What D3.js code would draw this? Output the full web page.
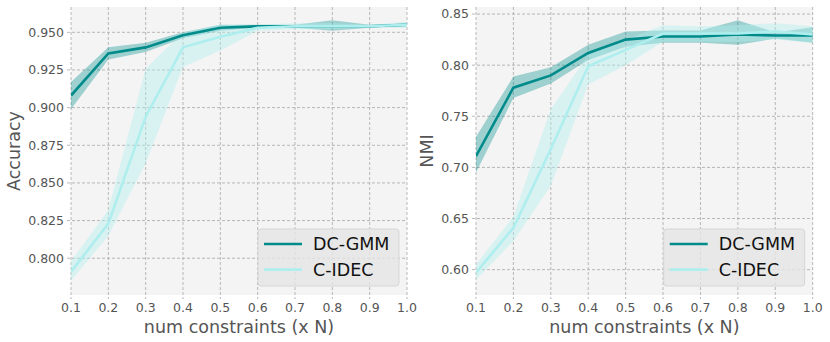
<!DOCTYPE html>
<html><head><meta charset="utf-8">
<script src="https://cdn.jsdelivr.net/npm/d3@7"></script>
<style>body{margin:0;background:#fff}svg{display:block}text{font-family:"DejaVu Sans",sans-serif}</style>
</head><body>
<svg id="c" width="830" height="342"></svg>
<script>
const xs = [0.1,0.2,0.3,0.4,0.5,0.6,0.7,0.8,0.9,1.0];
const xTicks = [0.1,0.2,0.3,0.4,0.5,0.6,0.7,0.8,0.9,1.0];
const seriesNames = ["DC-GMM","C-IDEC"];

// Accuracy panel
const accDC     = [0.908,0.936,0.940,0.948,0.953,0.954,0.954,0.954,0.954,0.955];
const accDCLo   = [0.899,0.932,0.937,0.946,0.951,0.953,0.953,0.951,0.953,0.954];
const accDCHi   = [0.917,0.940,0.943,0.950,0.955,0.955,0.955,0.958,0.955,0.956];
const accCI     = [0.791,0.823,0.894,0.940,0.947,0.953,0.954,0.954,0.954,0.955];
const accCILo   = [0.785,0.815,0.863,0.927,0.938,0.951,0.952,0.952,0.953,0.953];
const accCIHi   = [0.798,0.832,0.926,0.950,0.955,0.955,0.956,0.956,0.955,0.957];
const accTicks  = [0.800,0.825,0.850,0.875,0.900,0.925,0.950];

// NMI panel
const nmiDC     = [0.711,0.778,0.790,0.812,0.825,0.828,0.828,0.830,0.829,0.829];
const nmiDCLo   = [0.695,0.768,0.782,0.805,0.818,0.822,0.822,0.820,0.826,0.822];
const nmiDCHi   = [0.730,0.789,0.798,0.820,0.833,0.834,0.834,0.844,0.832,0.837];
const nmiCI     = [0.597,0.641,0.718,0.799,0.815,0.831,0.831,0.831,0.833,0.830];
const nmiCILo   = [0.590,0.628,0.682,0.781,0.800,0.823,0.823,0.823,0.825,0.822];
const nmiCIHi   = [0.605,0.652,0.757,0.810,0.825,0.839,0.838,0.839,0.841,0.838];
const nmiTicks  = [0.60,0.65,0.70,0.75,0.80,0.85];

const colors = ["#008b8b","#afeeee"];
const bandOpacity = [0.35,0.4];

const svg = d3.select("#c");

function panel(opt){
  const g = svg.append("g");
  const x = d3.scaleLinear().domain([0.1,1.0]).range(opt.xr);
  const y = d3.scaleLinear().domain(opt.yd).range([295,7]);
  const [x0,x1] = opt.xr;
  g.append("rect").attr("x",x0).attr("y",7).attr("width",x1-x0).attr("height",288).attr("fill","#f4f4f4");
  // grid
  g.selectAll(".gx").data(xTicks).join("line")
    .attr("x1",d=>x(d)).attr("x2",d=>x(d)).attr("y1",7).attr("y2",299)
    .attr("stroke","#b0b0b0").attr("stroke-width",0.9).attr("stroke-dasharray","3,2");
  g.selectAll(".gy").data(opt.ticks).join("line")
    .attr("x1",x0-4).attr("x2",x1).attr("y1",d=>y(d)).attr("y2",d=>y(d))
    .attr("stroke","#b0b0b0").attr("stroke-width",0.9).attr("stroke-dasharray","3,2");
  // x axis labels
  g.selectAll(".tx").data(xTicks).join("text")
    .attr("x",d=>x(d)).attr("y",312).attr("text-anchor","middle")
    .attr("font-size","12.5px").attr("fill","#555").text(d=>d.toFixed(1));
  g.selectAll(".ty").data(opt.ticks).join("text")
    .attr("x",x0-7).attr("y",d=>y(d)).attr("dy","0.35em").attr("text-anchor","end")
    .attr("font-size","12.5px").attr("fill","#555").text(d=>d.toFixed(opt.dec));
  g.append("text").attr("x",(x0+x1)/2).attr("y",333).attr("text-anchor","middle")
    .attr("font-size","17.5px").attr("fill","#555").text("num constraints (x N)");
  g.append("text").attr("transform",`translate(${opt.ylx},151) rotate(-90)`).attr("text-anchor","middle")
    .attr("dy","0.35em").attr("font-size","17.5px").attr("fill","#555").text(opt.ylabel);

  const clip = "clip"+opt.id;
  svg.append("clipPath").attr("id",clip).append("rect").attr("x",x0).attr("y",7).attr("width",x1-x0).attr("height",288);
  const pg = g.append("g").attr("clip-path",`url(#${clip})`);
  const area = d3.area().x((d,i)=>x(xs[i])).y0(d=>y(d[0])).y1(d=>y(d[1]));
  const line = d3.line().x((d,i)=>x(xs[i])).y(d=>y(d));
  // draw C-IDEC first? matplotlib order: DC-GMM first then C-IDEC on top
  opt.series.forEach((s,k)=>{
    pg.append("path").datum(s.lo.map((v,i)=>[v,s.hi[i]])).attr("d",area)
      .attr("fill",colors[k]).attr("fill-opacity",bandOpacity[k]);
  });
  opt.series.forEach((s,k)=>{
    pg.append("path").datum(s.mean).attr("d",line).attr("fill","none")
      .attr("stroke",colors[k]).attr("stroke-width",2.6);
  });
  // legend
  const lx = x1-149, ly = 229;
  const lg = g.append("g");
  lg.append("rect").attr("x",lx).attr("y",ly).attr("width",141).attr("height",57).attr("rx",3)
    .attr("fill","#e5e5e5").attr("fill-opacity",0.8).attr("stroke","#d6d6d6");
  seriesNames.forEach((n,k)=>{
    const yy = ly+15+k*25.6;
    lg.append("line").attr("x1",lx+6).attr("x2",lx+44).attr("y1",yy).attr("y2",yy)
      .attr("stroke",colors[k]).attr("stroke-width",2.6);
    lg.append("text").attr("x",lx+55).attr("y",yy).attr("dy","0.36em")
      .attr("font-size","17.5px").attr("fill","#111").text(n);
  });
}

panel({id:"a",xr:[71,407],yd:[0.7756,0.9668],ticks:accTicks,dec:3,ylabel:"Accuracy",ylx:14,
  series:[{mean:accDC,lo:accDCLo,hi:accDCHi},{mean:accCI,lo:accCILo,hi:accCIHi}]});
panel({id:"n",xr:[476,812.7],yd:[0.5752,0.8569],ticks:nmiTicks,dec:2,ylabel:"NMI",ylx:427,
  series:[{mean:nmiDC,lo:nmiDCLo,hi:nmiDCHi},{mean:nmiCI,lo:nmiCILo,hi:nmiCIHi}]});
</script>
</body></html>
